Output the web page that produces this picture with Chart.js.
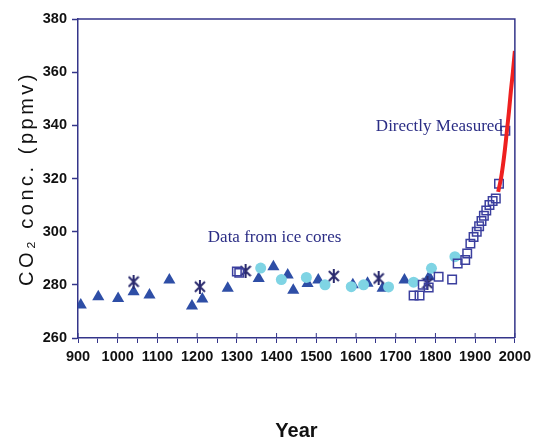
<!DOCTYPE html>
<html>
<head>
<meta charset="utf-8">
<style>
  html, body { margin: 0; padding: 0; background: #fff; }
  #wrap { width: 536px; height: 441px; }
</style>
<script src="https://cdn.jsdelivr.net/npm/chart.js@4/dist/chart.umd.min.js"></script>
</head>
<body>
<div id="wrap"><canvas id="co2Chart" width="536" height="441"></canvas></div>
<script>
// ice core records
const triangleYears = [907, 951, 1001, 1040, 1080, 1130, 1187, 1213, 1277, 1355, 1392, 1428, 1442, 1478, 1505, 1592, 1629, 1667, 1722, 1784];
const triangleCO2 = [272.4, 275.5, 274.9, 277.4, 276.2, 281.8, 272, 274.7, 278.7, 282.4, 286.8, 283.7, 278, 280.5, 281.8, 280, 280.6, 278.7, 281.8, 283];

const circleYears = [1360, 1412, 1475, 1522, 1588, 1619, 1682, 1745, 1790, 1849];
const circleCO2 = [286.3, 282, 282.8, 280, 279.3, 280, 279.2, 281, 286.2, 290.6];

const starYears = [1040, 1207, 1322, 1544, 1657, 1780];
const starCO2 = [281.2, 279.3, 285.2, 283.3, 282.4, 280.6];

const squareYears = [1300, 1306, 1745, 1760, 1768, 1783, 1808, 1842, 1856, 1875, 1880, 1888, 1896, 1904, 1910, 1916, 1922, 1928, 1936, 1944, 1952, 1960, 1976];
const squareCO2 = [285, 284.5, 276, 276, 280, 279, 283, 282, 288, 289.3, 291.8, 295.5, 298, 300, 302, 304, 306, 308, 310, 311.5, 312.5, 318, 338];

// direct measurements
const measuredYears = [1958, 1965, 1970, 1975, 1980, 1985, 1990, 1995, 2000];
const measuredCO2 = [315, 320, 325, 331, 338, 345, 353, 360, 368];

const yearTicks = [900, 1000, 1100, 1200, 1300, 1400, 1500, 1600, 1700, 1800, 1900, 2000];

const toPoints = (xs, ys) => xs.map((x, i) => ({ x, y: ys[i] }));

const navy = '#34358a';
const sansFamily = "'Liberation Sans Narrow', 'Arial Narrow', 'Liberation Sans', Arial, sans-serif";
const tickFont = { family: sansFamily, size: 14.5, weight: 'bold' };

// asterisk-like marker (X with a vertical stroke)
const starMark = document.createElement('canvas');
starMark.width = 12;
starMark.height = 14;
(function () {
  const c = starMark.getContext('2d');
  c.strokeStyle = '#2a2a6e';
  c.lineWidth = 2;
  c.beginPath();
  c.moveTo(1, 2); c.lineTo(11, 12);
  c.moveTo(11, 2); c.lineTo(1, 12);
  c.moveTo(6, 0); c.lineTo(6, 14);
  c.stroke();
})();

const frame = {
  id: 'frame',
  afterDraw(chart) {
    const { ctx, chartArea: a, scales } = chart;
    ctx.save();
    ctx.strokeStyle = navy;
    ctx.lineWidth = 1.5;
    ctx.beginPath();
    ctx.moveTo(a.left, a.top); ctx.lineTo(a.right, a.top); ctx.lineTo(a.right, a.bottom);
    ctx.stroke();
    // major year ticks poke into the plot a little
    ctx.lineWidth = 1;
    yearTicks.forEach((v) => {
      const px = scales.x.getPixelForValue(v);
      ctx.beginPath(); ctx.moveTo(px, a.bottom); ctx.lineTo(px, a.bottom - 5); ctx.stroke();
    });

    // annotations
    ctx.fillStyle = '#2b2d85';
    ctx.font = "17px 'Liberation Serif', 'Times New Roman', serif";
    ctx.textBaseline = 'alphabetic';
    ctx.textAlign = 'center';
    ctx.fillText('Data from ice cores', scales.x.getPixelForValue(1395), scales.y.getPixelForValue(296));
    ctx.textAlign = 'left';
    ctx.fillText('Directly Measured', scales.x.getPixelForValue(1650), scales.y.getPixelForValue(338));

    // y axis title, letter spaced
    ctx.fillStyle = '#111';
    ctx.font = "20px 'Liberation Sans', Arial, sans-serif";
    ctx.translate(27, (a.top + a.bottom) / 2);
    ctx.rotate(-Math.PI / 2);
    ctx.textAlign = 'center';
    ctx.textBaseline = 'middle';
    if ('letterSpacing' in ctx) ctx.letterSpacing = '3.5px';
    ctx.fillText('CO\u2082 conc. (ppmv)', 0, 0);
    ctx.restore();
  }
};

new Chart(document.getElementById('co2Chart'), {
  type: 'scatter',
  data: {
    datasets: [{
      label: 'Directly Measured',
      type: 'line',
      data: toPoints(measuredYears, measuredCO2),
      borderColor: '#ee2020',
      borderWidth: 4,
      pointRadius: 0,
      tension: 0.3,
      order: 0
    }, {
      label: 'Ice core (squares)',
      data: toPoints(squareYears, squareCO2),
      pointStyle: 'rect',
      pointRadius: 6,
      borderColor: '#3b3f9e',
      borderWidth: 1.5,
      backgroundColor: 'rgba(255,255,255,0)',
      order: 1
    }, {
      label: 'Ice core (stars)',
      data: toPoints(starYears, starCO2),
      pointStyle: starMark,
      order: 2
    }, {
      label: 'Ice core (circles)',
      data: toPoints(circleYears, circleCO2),
      pointStyle: 'circle',
      pointRadius: 5.5,
      borderWidth: 0,
      backgroundColor: '#7fd4e4',
      order: 3
    }, {
      label: 'Ice core (triangles)',
      data: toPoints(triangleYears, triangleCO2),
      pointStyle: 'triangle',
      pointRadius: 7,
      borderWidth: 0,
      backgroundColor: '#2e4ea6',
      order: 4
    }]
  },
  options: {
    responsive: false,
    animation: false,
    events: [],
    layout: { padding: { top: 19, right: 18, left: 0, bottom: 0 } },
    plugins: {
      legend: { display: false },
      tooltip: { enabled: false }
    },
    scales: {
      x: {
        type: 'linear',
        min: 900,
        max: 2000,
        afterFit: (scale) => { scale.height = 103; },
        afterBuildTicks: (scale) => {
          const t = [];
          for (let v = 900; v <= 2000; v += 50) t.push({ value: v });
          scale.ticks = t;
        },
        ticks: {
          autoSkip: false,
          maxRotation: 0,
          color: '#111',
          font: tickFont,
          padding: 5,
          callback: (v) => (yearTicks.includes(v) ? String(v) : '')
        },
        grid: { drawOnChartArea: false, tickLength: 5, tickColor: navy, tickWidth: 1 },
        border: { color: navy, width: 1.5 },
        title: {
          display: true,
          text: 'Year',
          color: '#111',
          font: { family: sansFamily, size: 20, weight: 'bold' },
          padding: { top: 0, bottom: -2 }
        }
      },
      y: {
        min: 260,
        max: 380,
        afterFit: (scale) => { scale.width = 78; },
        ticks: { stepSize: 20, color: '#111', font: tickFont, padding: 5 },
        grid: { drawOnChartArea: false, tickLength: 6, tickColor: navy, tickWidth: 1.5 },
        border: { color: navy, width: 1.5 }
      }
    }
  },
  plugins: [frame]
});
</script>
</body>
</html>
